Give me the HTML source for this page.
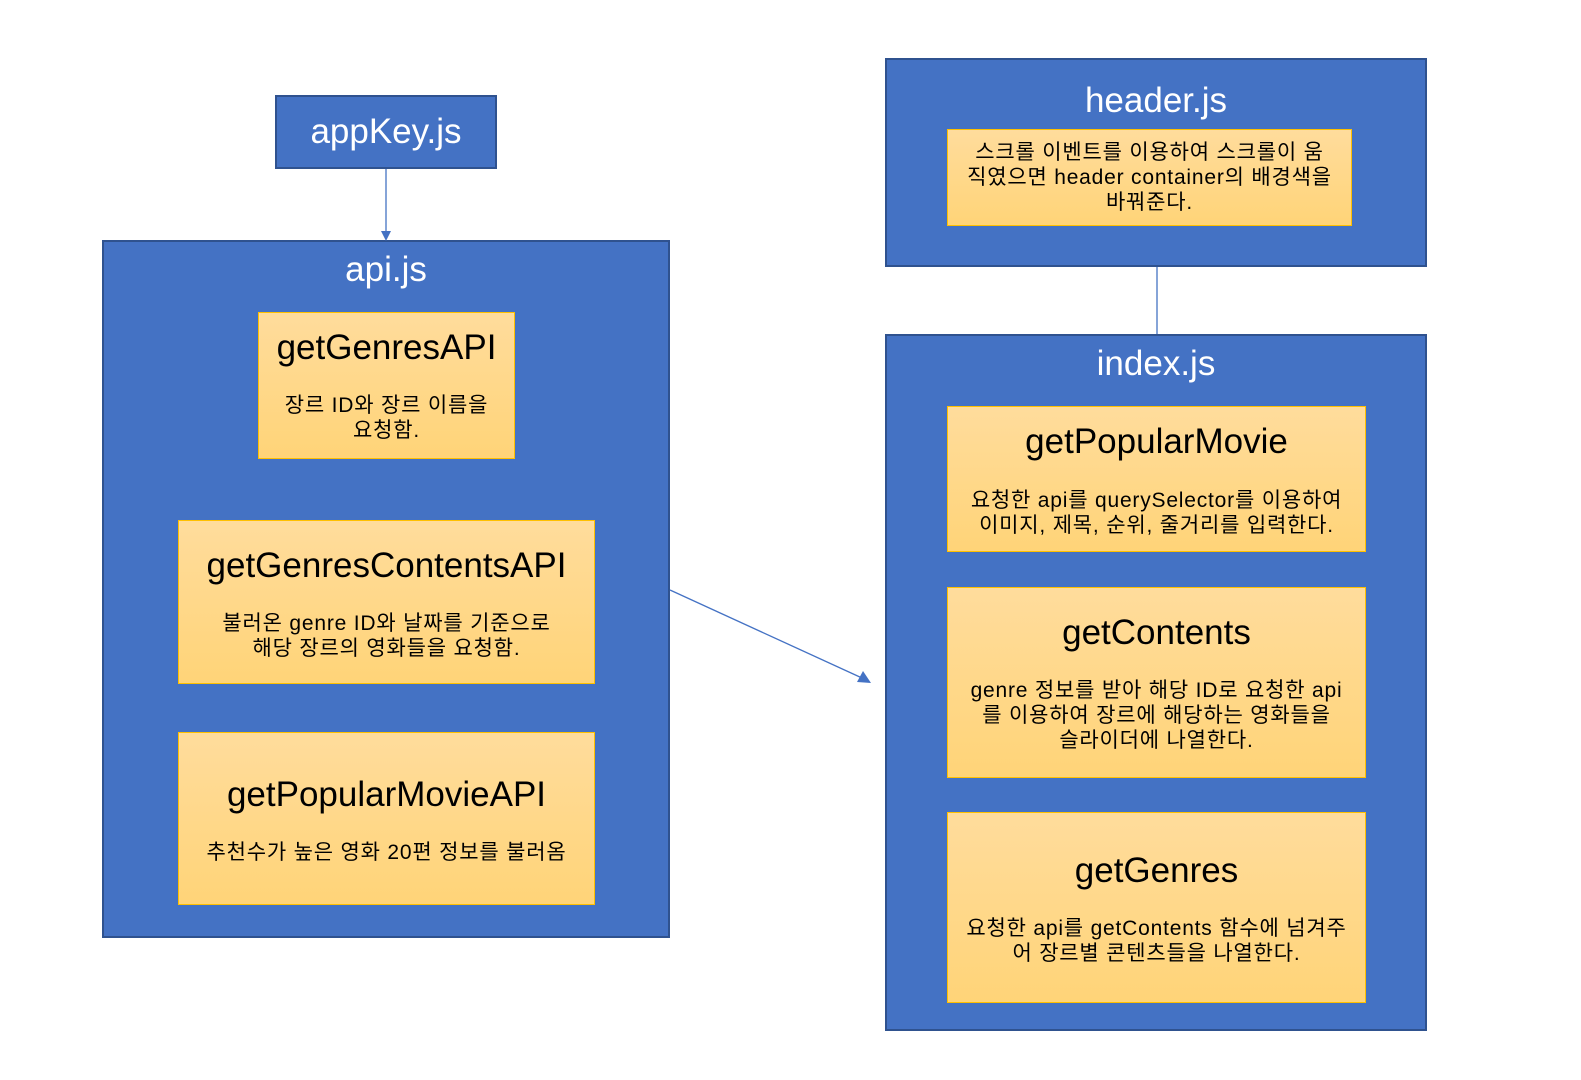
<!DOCTYPE html>
<html><head><meta charset="utf-8"><style>
body{margin:0;width:1581px;height:1080px;background:#fff;position:relative;overflow:hidden;font-family:"Liberation Sans","Noto Sans CJK KR",sans-serif}
.b{position:absolute;background:#4472C4;border:2px solid #2F528F;box-sizing:border-box;color:#fff;text-align:center}
.y{position:absolute;background:linear-gradient(#FFDC9C,#FFD478);border:1.5px solid #FFC000;box-sizing:border-box;color:#000;text-align:center}
.t{position:absolute;left:0;right:0;font-size:35px;line-height:40px;white-space:nowrap}
.d{position:absolute;left:0;right:0;font-size:21px;line-height:25px;letter-spacing:0.8px;white-space:nowrap}
</style></head><body>
<div class="b" style="left:275px;top:95px;width:222px;height:74px"><div class="t" style="top:15px">appKey.js</div></div>
<div class="b" style="left:102px;top:240px;width:568px;height:698px"><div class="t" style="top:8px">api.js</div></div>
<div class="y" style="left:258px;top:312px;width:257px;height:147px"><div class="t" style="top:15px">getGenresAPI</div><div class="d" style="top:80px">장르 ID와 장르 이름을<br>요청함.</div></div>
<div class="y" style="left:178px;top:520px;width:417px;height:164px"><div class="t" style="top:25px">getGenresContentsAPI</div><div class="d" style="top:90px">불러온 genre ID와 날짜를 기준으로<br>해당 장르의 영화들을 요청함.</div></div>
<div class="y" style="left:178px;top:732px;width:417px;height:173px"><div class="t" style="top:42px">getPopularMovieAPI</div><div class="d" style="top:107px">추천수가 높은 영화 20편 정보를 불러옴</div></div>
<div class="b" style="left:885px;top:58px;width:542px;height:209px"><div class="t" style="top:21px">header.js</div></div>
<div class="y" style="left:947px;top:129px;width:405px;height:97px"><div class="d" style="top:10px">스크롤 이벤트를 이용하여 스크롤이 움<br>직였으면 header container의 배경색을<br>바꿔준다.</div></div>
<div class="b" style="left:885px;top:334px;width:542px;height:697px"><div class="t" style="top:8px">index.js</div></div>
<div class="y" style="left:947px;top:406px;width:419px;height:146px"><div class="t" style="top:15px">getPopularMovie</div><div class="d" style="top:81px">요청한 api를 querySelector를 이용하여<br>이미지, 제목, 순위, 줄거리를 입력한다.</div></div>
<div class="y" style="left:947px;top:587px;width:419px;height:191px"><div class="t" style="top:25px">getContents</div><div class="d" style="top:90px">genre 정보를 받아 해당 ID로 요청한 api<br>를 이용하여 장르에 해당하는 영화들을<br>슬라이더에 나열한다.</div></div>
<div class="y" style="left:947px;top:812px;width:419px;height:191px"><div class="t" style="top:38px">getGenres</div><div class="d" style="top:103px">요청한 api를 getContents 함수에 넘겨주<br>어 장르별 콘텐츠들을 나열한다.</div></div>
<svg width="1581" height="1080" style="position:absolute;left:0;top:0">
<line x1="386" y1="169" x2="386" y2="232" stroke="#4472C4" stroke-width="1.3"/>
<polygon points="381,231 391,231 386,241" fill="#4472C4"/>
<line x1="1157" y1="267" x2="1157" y2="334" stroke="#4472C4" stroke-width="1.3"/>
<line x1="670" y1="590" x2="862" y2="678" stroke="#4472C4" stroke-width="1.3"/>
<polygon points="871,683 857,682 863,671" fill="#4472C4"/>
</svg>
</body></html>
